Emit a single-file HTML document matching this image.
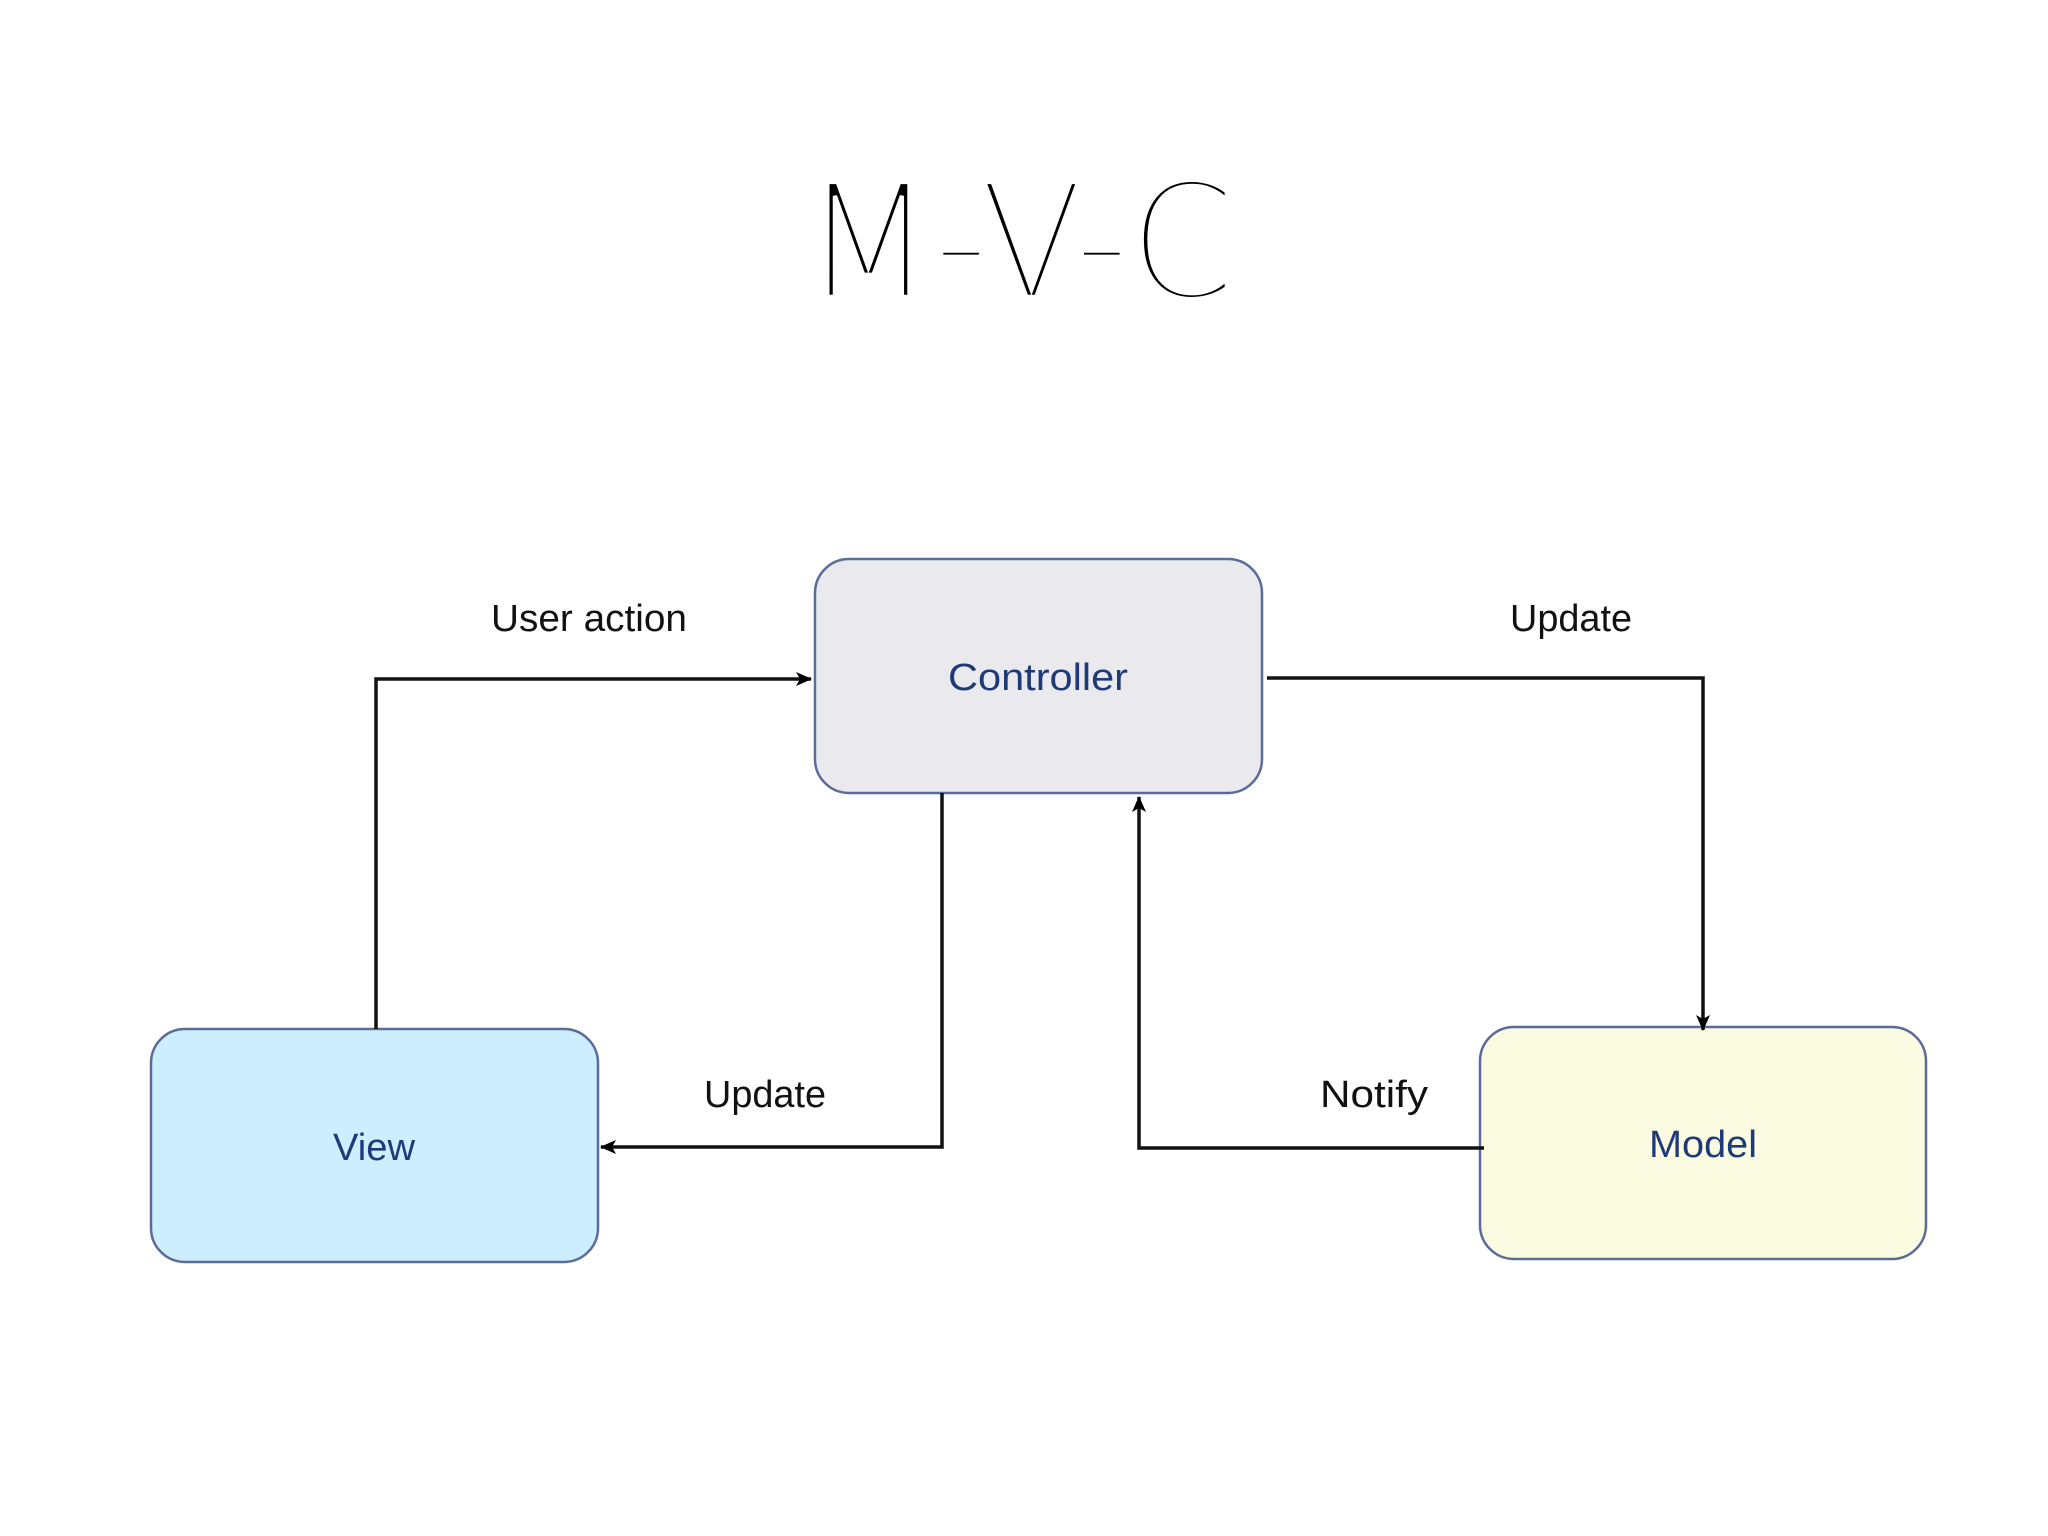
<!DOCTYPE html>
<html><head><meta charset="utf-8"><style>
html,body{margin:0;padding:0;background:#fff;}
svg{display:block;}
</style></head><body>
<svg width="2048" height="1536" viewBox="0 0 2048 1536" xmlns="http://www.w3.org/2000/svg">
<defs>
<marker id="b" markerWidth="16" markerHeight="16" refX="15" refY="8" orient="auto" markerUnits="userSpaceOnUse" viewBox="0 0 16 16">
<path d="M0,1 L16,8 L0,15 L4,8 Z" fill="#000"/>
</marker>
</defs>
<rect width="2048" height="1536" fill="#fff"/>
<text x="803" y="297" font-family="DejaVu Sans, Liberation Sans, sans-serif" font-weight="200" font-size="158" textLength="432" lengthAdjust="spacingAndGlyphs" fill="#000" stroke="#fff" stroke-width="4.5">M-V-C</text>

<rect x="815" y="559" width="447" height="234" rx="34" fill="#e9e9ee" stroke="#5b6c99" stroke-width="2.5"/>
<rect x="151" y="1029" width="447" height="233" rx="34" fill="#cdeefe" stroke="#5b6c99" stroke-width="2.5"/>
<rect x="1480" y="1027" width="446" height="232" rx="34" fill="#fbfbe1" stroke="#5b6c99" stroke-width="2.5"/>

<g font-family="Liberation Sans, sans-serif" font-size="38" text-anchor="middle" fill="#1f3a78">
<text x="1038" y="690" textLength="180" lengthAdjust="spacingAndGlyphs">Controller</text>
<text x="374" y="1160" textLength="82" lengthAdjust="spacingAndGlyphs">View</text>
<text x="1703" y="1157" textLength="108" lengthAdjust="spacingAndGlyphs">Model</text>
</g>
<g font-family="Liberation Sans, sans-serif" font-size="38" text-anchor="middle" fill="#111">
<text x="589" y="631" textLength="196" lengthAdjust="spacingAndGlyphs">User action</text>
<text x="1571" y="631" textLength="122" lengthAdjust="spacingAndGlyphs">Update</text>
<text x="765" y="1107" textLength="122" lengthAdjust="spacingAndGlyphs">Update</text>
<text x="1374" y="1107" textLength="108" lengthAdjust="spacingAndGlyphs">Notify</text>
</g>

<g fill="none" stroke="#111" stroke-width="3.5">
<polyline points="376,1029 376,679 811,679" marker-end="url(#b)"/>
<polyline points="1267,678 1703,678 1703,1030" marker-end="url(#b)"/>
<polyline points="942,793 942,1147 601,1147" marker-end="url(#b)"/>
<polyline points="1484,1148 1139,1148 1139,797" marker-end="url(#b)"/>
</g>
</svg>
</body></html>
